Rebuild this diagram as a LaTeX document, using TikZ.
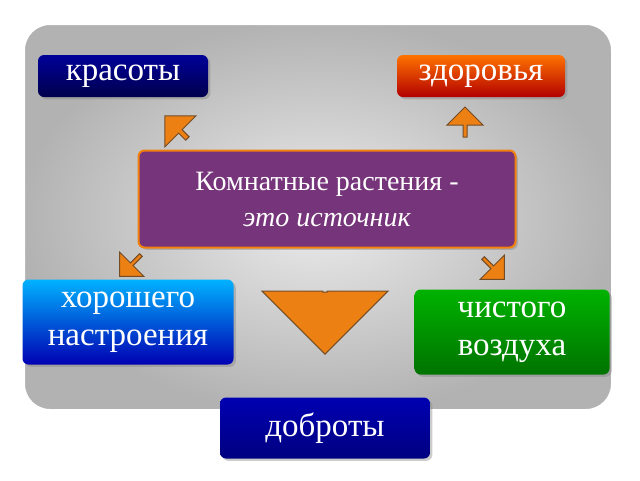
\documentclass[tikz,border=0pt]{standalone}
\usepackage{fontspec}
\setmainfont{Liberation Serif}
\usetikzlibrary{positioning, shapes.arrows, shadows}
\definecolor{plum}{RGB}{118,52,122}

\begin{document}
\begin{tikzpicture}[x=1pt, y=-1pt,
        topic/.style = {rounded corners=6pt, text=white, align=center, font=\fontsize{33}{38}\selectfont, inner sep=2pt, drop shadow={opacity=0.4}},
        pointer/.style = {single arrow, draw=brown!60!black, fill=orange!70!brown, line width=1pt, single arrow head extend=4pt, inner sep=0pt},
        ]
        \useasboundingbox (0,0) rectangle (640,480);
        \fill[white] (0,0) rectangle (640,480);
        \draw[white, line width=6pt, rounded corners=28pt, inner color=gray!15, outer color=gray!60] (22,22) rectangle (614,412);

        \node [topic, minimum width=170pt, minimum height=42pt, top color=blue!60!black, bottom color=blue!30!black] (beauty) at (123,76) {красоты};
        \node [topic, minimum width=168pt, minimum height=42pt, top color=orange!90!red, bottom color=red!70!black] (health) at (481,76) {здоровья};
        \node [topic, minimum width=377pt, minimum height=97pt, fill=plum, draw=orange!80!brown, line width=2pt, font=\fontsize{28}{36}\selectfont] (source) at (327,199) {Комнатные растения -\\\textit{это источник}};
        \node [topic, minimum width=211pt, minimum height=85pt, top color=cyan!70!blue, bottom color=blue!70!black] (mood) at (128,322) {хорошего\\настроения};
        \node [topic, minimum width=195pt, minimum height=85pt, top color=green!70!black, bottom color=green!45!black] (air) at (512,332) {чистого\\воздуха};
        \node [topic, minimum width=210pt, minimum height=61pt, top color=blue!70!black, bottom color=blue!50!black] (kindness) at (325,428) {доброты};

        \node [pointer, minimum width=44pt, minimum height=32pt, rotate=135] (toBeauty) at (177,128) {};
        \node [pointer, minimum width=36pt, minimum height=30pt, rotate=90] (toHealth) at (465,123) {};
        \node [pointer, minimum width=34pt, minimum height=30pt, rotate=225] (toMood) at (131,265) {};
        \node [pointer, minimum width=34pt, minimum height=30pt, rotate=315] (toAir) at (493,268) {};
        \node [pointer, minimum width=126pt, minimum height=62pt, rotate=270, single arrow head extend=14pt] (toKindness) at (325,322) {};
    \end{tikzpicture}
\end{document}
